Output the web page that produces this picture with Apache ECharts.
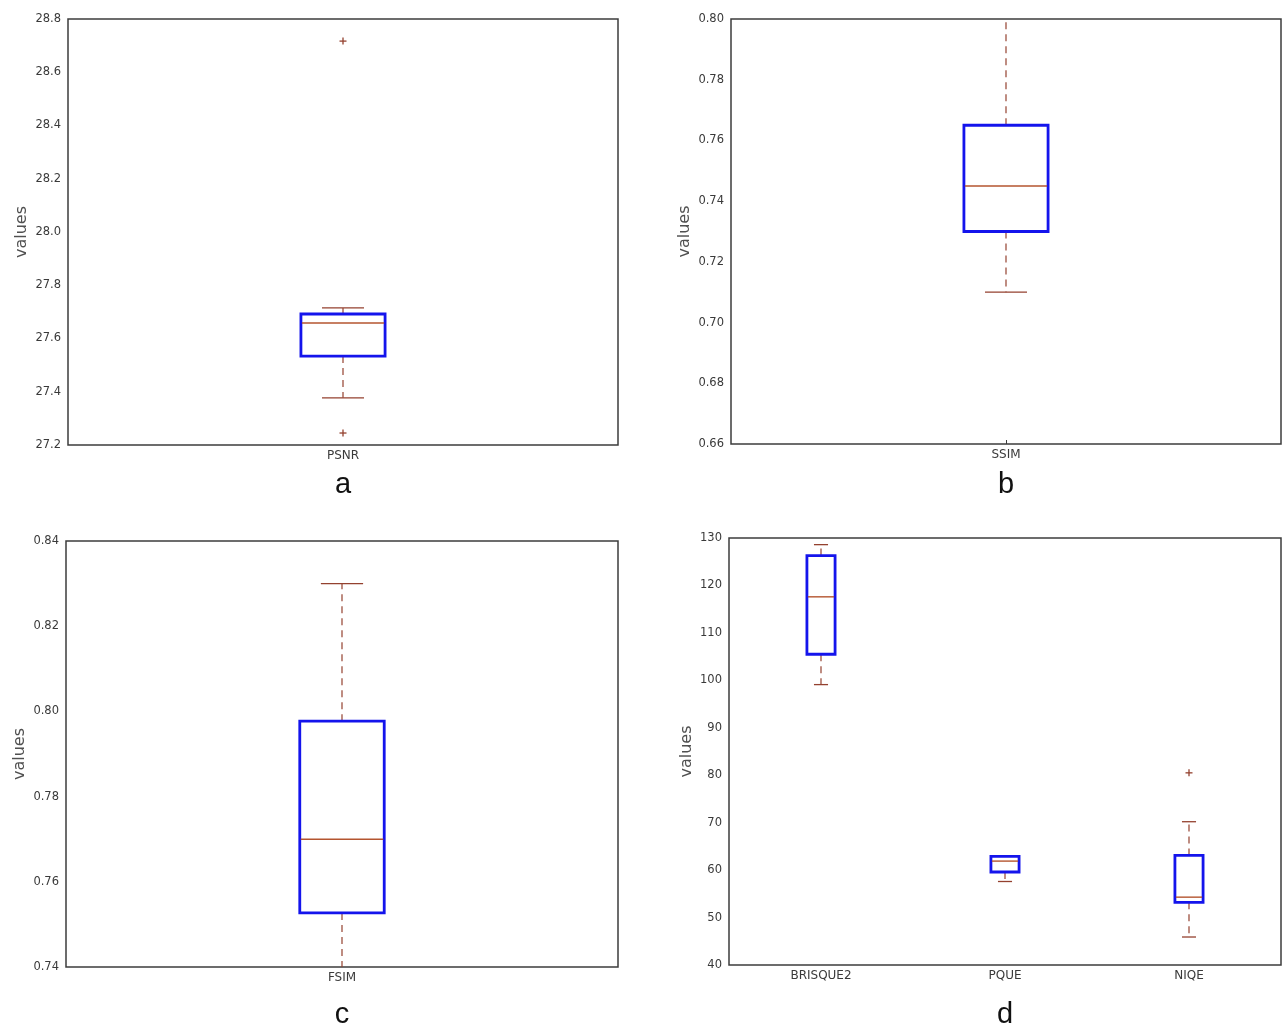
<!DOCTYPE html>
<html>
<head>
<meta charset="utf-8">
<title>Quality metric box plots</title>
<script src="https://cdn.jsdelivr.net/npm/echarts@6/dist/echarts.min.js"></script>
<style>
  html, body { margin: 0; padding: 0; background: #ffffff; }
  #chart { width: 1288px; height: 1027px; }
</style>
</head>
<body>
<div id="chart"></div>
<script>
// Box statistics are [lower whisker, Q1, median, Q3, upper whisker]
const psnrCategories = ['PSNR'];
const psnrBox = [27.377, 27.534, 27.658, 27.692, 27.715];
const psnrOutliers = [28.717, 27.245];

const ssimCategories = ['SSIM'];
const ssimBox = [0.710, 0.730, 0.745, 0.765, 0.802];

const fsimCategories = ['FSIM'];
const fsimBox = [0.738, 0.7527, 0.770, 0.7977, 0.830];

const nrCategories = ['BRISQUE2', 'PQUE', 'NIQE'];
const brisqueBox = [99.1, 105.5, 117.6, 126.3, 128.6];
const pqueBox = [57.6, 59.6, 61.9, 62.9, 62.9];
const niqeBox = [45.9, 53.2, 54.3, 63.1, 70.2];
const niqeOutliers = [80.5];

// Axis ranges (min, max, tick step)
const psnrAxis = [27.2, 28.8, 0.2];
const ssimAxis = [0.66, 0.80, 0.02];
const fsimAxis = [0.74, 0.84, 0.02];
const nrAxis = [40, 130, 10];

const panelLetters = ['a', 'b', 'c', 'd'];

const BOX_BLUE = '#1414ec';
const WHISKER = '#94412f';
const MEDIAN = '#b4552f';
const FLIER = '#94412f';
const LABEL_FONT = '"DejaVu Sans", "Liberation Sans", Arial, sans-serif';

function boxRender(params, api) {
  const i = api.value(0);
  const lo = api.coord([i, api.value(1)]);
  const q1 = api.coord([i, api.value(2)]);
  const med = api.coord([i, api.value(3)]);
  const q3 = api.coord([i, api.value(4)]);
  const hi = api.coord([i, api.value(5)]);
  const band = api.size([1, 0])[0];
  const bw = band * 0.153;
  const cw = bw / 2;
  const cx = q1[0];
  const dash = { stroke: WHISKER, lineWidth: 1.2, lineDash: [7, 5] };
  const solid = { stroke: WHISKER, lineWidth: 1.3 };
  return {
    type: 'group',
    children: [
      { type: 'line', shape: { x1: cx, y1: q3[1], x2: cx, y2: hi[1] }, style: dash },
      { type: 'line', shape: { x1: cx, y1: q1[1], x2: cx, y2: lo[1] }, style: dash },
      { type: 'line', shape: { x1: cx - cw / 2, y1: hi[1], x2: cx + cw / 2, y2: hi[1] }, style: solid },
      { type: 'line', shape: { x1: cx - cw / 2, y1: lo[1], x2: cx + cw / 2, y2: lo[1] }, style: solid },
      { type: 'rect', shape: { x: cx - bw / 2, y: q3[1], width: bw, height: q1[1] - q3[1] },
        style: { fill: 'none', stroke: BOX_BLUE, lineWidth: 2.8 } },
      { type: 'line', shape: { x1: cx - bw / 2 + 1, y1: med[1], x2: cx + bw / 2 - 1, y2: med[1] },
        style: { stroke: MEDIAN, lineWidth: 1.4 } }
    ]
  };
}

function flierRender(params, api) {
  const p = api.coord([api.value(0), api.value(1)]);
  const r = 3.5;
  const st = { stroke: FLIER, lineWidth: 1.3 };
  return {
    type: 'group',
    children: [
      { type: 'line', shape: { x1: p[0] - r, y1: p[1], x2: p[0] + r, y2: p[1] }, style: st },
      { type: 'line', shape: { x1: p[0], y1: p[1] - r, x2: p[0], y2: p[1] + r }, style: st }
    ]
  };
}

const grids = [
  { left: 68, top: 19, width: 550, height: 426 },
  { left: 731, top: 19, width: 550, height: 425 },
  { left: 66, top: 541, width: 552, height: 426 },
  { left: 729, top: 538, width: 552, height: 427 }
].map(g => Object.assign({ show: true, borderColor: '#3c3c3c', borderWidth: 1.5, backgroundColor: '#ffffff' }, g));

const categorySets = [psnrCategories, ssimCategories, fsimCategories, nrCategories];
const axisRanges = [psnrAxis, ssimAxis, fsimAxis, nrAxis];
const decimals = [1, 2, 2, 0];
const nameGaps = [38, 38, 38, 34];
const boxSets = [[psnrBox], [ssimBox], [fsimBox], [brisqueBox, pqueBox, niqeBox]];
const flierSets = [
  psnrOutliers.map(v => [0, v]),
  [],
  [],
  niqeOutliers.map(v => [2, v])
];

const xAxes = categorySets.map((cats, k) => ({
  type: 'category',
  gridIndex: k,
  data: cats,
  boundaryGap: true,
  axisLine: { show: false },
  axisTick: { show: k === 1, inside: true, length: 4, alignWithLabel: true,
              lineStyle: { color: '#3c3c3c' } },
  splitLine: { show: false },
  axisLabel: { color: '#3a3a3a', fontFamily: LABEL_FONT, fontSize: 12, margin: 5 }
}));

const yAxes = axisRanges.map((r, k) => ({
  type: 'value',
  gridIndex: k,
  min: r[0],
  max: r[1],
  interval: r[2],
  name: 'values',
  nameLocation: 'middle',
  nameGap: nameGaps[k],
  nameTextStyle: { color: '#505050', fontFamily: LABEL_FONT, fontSize: 16 },
  axisLine: { show: false },
  axisTick: { show: false },
  splitLine: { show: false },
  axisLabel: {
    color: '#3a3a3a', fontFamily: LABEL_FONT, fontSize: 11.5, margin: 7,
    formatter: v => v.toFixed(decimals[k])
  }
}));

const series = [];
boxSets.forEach((boxes, k) => {
  series.push({
    type: 'custom',
    xAxisIndex: k,
    yAxisIndex: k,
    renderItem: boxRender,
    clip: true,
    data: boxes.map((b, i) => [i].concat(b)),
    z: 3
  });
  if (flierSets[k].length) {
    series.push({
      type: 'custom',
      xAxisIndex: k,
      yAxisIndex: k,
      renderItem: flierRender,
      clip: true,
      data: flierSets[k],
      z: 3
    });
  }
});

const letterPos = [[343, 485], [1006, 485], [342, 1015], [1005, 1015]];
const graphic = panelLetters.map((t, k) => ({
  type: 'text',
  x: letterPos[k][0],
  y: letterPos[k][1],
  style: {
    text: t,
    textAlign: 'center',
    textVerticalAlign: 'middle',
    fill: '#111',
    font: '29px "Liberation Sans", Arial, sans-serif'
  }
}));

const chart = echarts.init(document.getElementById('chart'), null, { renderer: 'canvas' });
chart.setOption({
  animation: false,
  backgroundColor: '#ffffff',
  grid: grids,
  xAxis: xAxes,
  yAxis: yAxes,
  series: series,
  graphic: graphic
});
</script>
</body>
</html>
